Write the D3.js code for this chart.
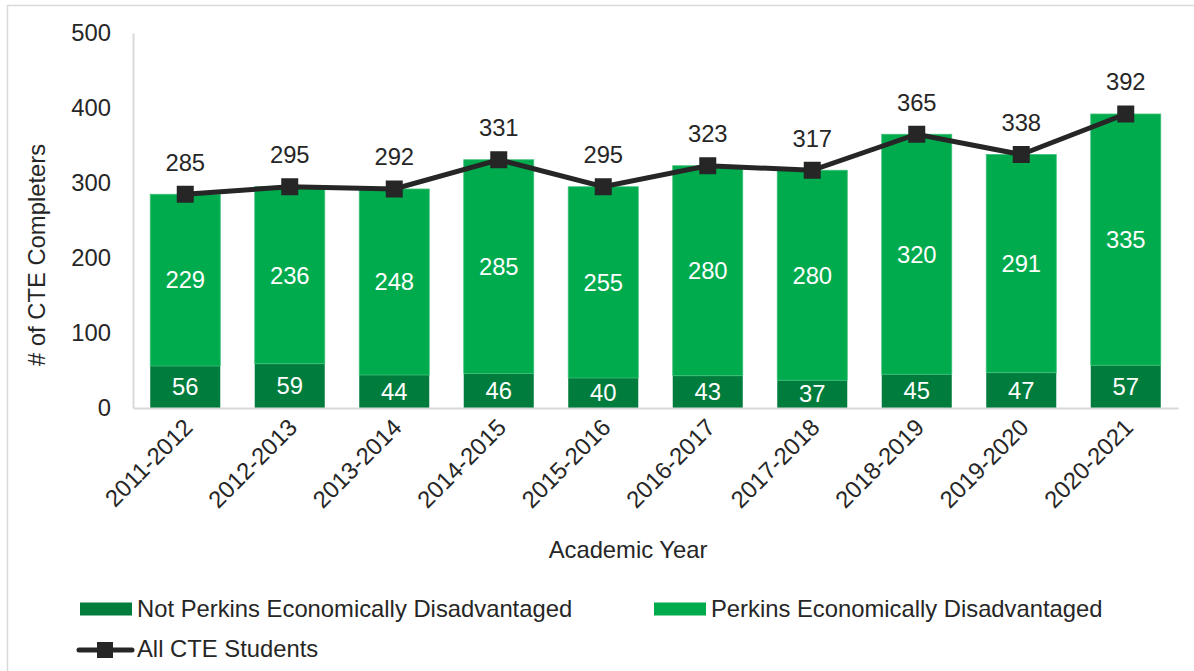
<!DOCTYPE html>
<html>
<head>
<meta charset="utf-8">
<script src="https://cdn.jsdelivr.net/npm/d3@7"></script>
<style>
  body { margin: 0; background: #fff; }
  svg text { font-family: "Liberation Sans", Arial, sans-serif; fill: #262626; }
</style>
</head>
<body>
<svg id="chart" width="1194" height="671"></svg>
<script>
// chart data
var years = ['2011-2012', '2012-2013', '2013-2014', '2014-2015', '2015-2016',
             '2016-2017', '2017-2018', '2018-2019', '2019-2020', '2020-2021'];
var notPerkins = [56, 59, 44, 46, 40, 43, 37, 45, 47, 57];
var perkins = [229, 236, 248, 285, 255, 280, 280, 320, 291, 335];
var allStudents = [285, 295, 292, 331, 295, 323, 317, 365, 338, 392];
var yTicks = [0, 100, 200, 300, 400, 500];

var colDark = '#007c3c'
  , colLight = '#00ab4e'
  , colLine = '#262626'
  , fs = 23.8;

var margin = {top: 33, left: 133, right: 16, bottom: 263}
  , width = 1194 - margin.left - margin.right
  , height = 671 - margin.top - margin.bottom;

var svg = d3.select('#chart');

// outer frame
svg.append('rect')
    .attr('x', 7.5).attr('y', 5.5)
    .attr('width', 1200).attr('height', 700)
    .attr('fill', 'none')
    .attr('stroke', '#d9d9d9')
    .attr('stroke-width', 1.5);

var g = svg.append('g')
    .attr('transform', 'translate(' + margin.left + ',' + margin.top + ')');

var x = d3.scaleBand().domain(years).range([0, width]).paddingInner(0.33).paddingOuter(0.165);
var y = d3.scaleLinear().domain([0, 500]).range([height, 0]);

// y axis
var yAxis = g.append('g').call(d3.axisLeft(y).tickValues(yTicks).tickSize(0).tickPadding(22));
yAxis.select('.domain').attr('stroke', '#d9d9d9').attr('stroke-width', 2);
yAxis.selectAll('text').attr('font-size', fs).attr('fill', '#262626');

// stacked bars
var rows = years.map(function(d, i) { return {year: d, a: notPerkins[i], b: perkins[i], t: allStudents[i]}; });

g.selectAll('.barA').data(rows).enter().append('rect')
    .attr('x', function(d) { return x(d.year); })
    .attr('y', function(d) { return y(d.a); })
    .attr('width', x.bandwidth())
    .attr('height', function(d) { return y(0) - y(d.a); })
    .attr('fill', colDark);

g.selectAll('.barB').data(rows).enter().append('rect')
    .attr('x', function(d) { return x(d.year); })
    .attr('y', function(d) { return y(d.a + d.b); })
    .attr('width', x.bandwidth())
    .attr('height', function(d) { return y(d.a) - y(d.a + d.b); })
    .attr('fill', colLight)
    .attr('stroke', '#3fbf77').attr('stroke-width', 0.8);

// x axis
var xAxis = g.append('g').attr('transform', 'translate(0,' + height + ')')
    .call(d3.axisBottom(x).tickSize(0).tickPadding(0));
xAxis.select('.domain').attr('stroke', '#d9d9d9').attr('stroke-width', 2);
xAxis.selectAll('text')
    .attr('font-size', fs)
    .attr('fill', '#262626')
    .attr('text-anchor', 'end')
    .attr('dy', '0.35em')
    .attr('transform', 'translate(3,15) rotate(-45)');

// segment labels
g.selectAll('.lblA').data(rows).enter().append('text')
    .attr('x', function(d) { return x(d.year) + x.bandwidth() / 2; })
    .attr('y', function(d) { return y(d.a / 2); })
    .attr('dy', '0.35em').attr('text-anchor', 'middle')
    .attr('font-size', fs).style('fill', '#fff')
    .text(function(d) { return d.a; });

g.selectAll('.lblB').data(rows).enter().append('text')
    .attr('x', function(d) { return x(d.year) + x.bandwidth() / 2; })
    .attr('y', function(d) { return y(d.a + d.b / 2); })
    .attr('dy', '0.35em').attr('text-anchor', 'middle')
    .attr('font-size', fs).style('fill', '#fff')
    .text(function(d) { return d.b; });

// total line
var line = d3.line()
    .x(function(d) { return x(d.year) + x.bandwidth() / 2; })
    .y(function(d) { return y(d.t); });

g.append('path').datum(rows)
    .attr('d', line)
    .attr('fill', 'none')
    .attr('stroke', colLine)
    .attr('stroke-width', 5);

g.selectAll('.mark').data(rows).enter().append('rect')
    .attr('x', function(d) { return x(d.year) + x.bandwidth() / 2 - 8.5; })
    .attr('y', function(d) { return y(d.t) - 8.5; })
    .attr('width', 17).attr('height', 17)
    .attr('fill', colLine);

g.selectAll('.lblT').data(rows).enter().append('text')
    .attr('x', function(d) { return x(d.year) + x.bandwidth() / 2; })
    .attr('y', function(d) { return y(d.t) - 32; })
    .attr('dy', '0.35em').attr('text-anchor', 'middle')
    .attr('font-size', fs)
    .text(function(d) { return d.t; });

// axis titles
svg.append('text')
    .attr('transform', 'translate(45,255) rotate(-90)')
    .attr('text-anchor', 'middle')
    .attr('font-size', fs)
    .text('# of CTE Completers');

svg.append('text')
    .attr('x', 628).attr('y', 550)
    .attr('dy', '0.35em').attr('text-anchor', 'middle')
    .attr('font-size', fs)
    .text('Academic Year');

// legend
var leg = svg.append('g');
var legItems = [
  {label: 'Not Perkins Economically Disadvantaged', col: colDark, x: 80, y: 609},
  {label: 'Perkins Economically Disadvantaged', col: colLight, x: 654, y: 609}
];
legItems.forEach(function(d) {
  leg.append('rect').attr('x', d.x).attr('y', d.y - 6.5).attr('width', 52).attr('height', 13).attr('fill', d.col);
  leg.append('text').attr('x', d.x + 57).attr('y', d.y).attr('dy', '0.35em').attr('font-size', fs).text(d.label);
});
leg.append('line').attr('x1', 79).attr('x2', 132).attr('y1', 650).attr('y2', 650)
    .attr('stroke', colLine).attr('stroke-width', 5).attr('stroke-linecap', 'round');
leg.append('rect').attr('x', 97).attr('y', 642).attr('width', 16).attr('height', 16).attr('fill', colLine);
leg.append('text').attr('x', 137).attr('y', 649).attr('dy', '0.35em').attr('font-size', fs).text('All CTE Students');
</script>
</body>
</html>
